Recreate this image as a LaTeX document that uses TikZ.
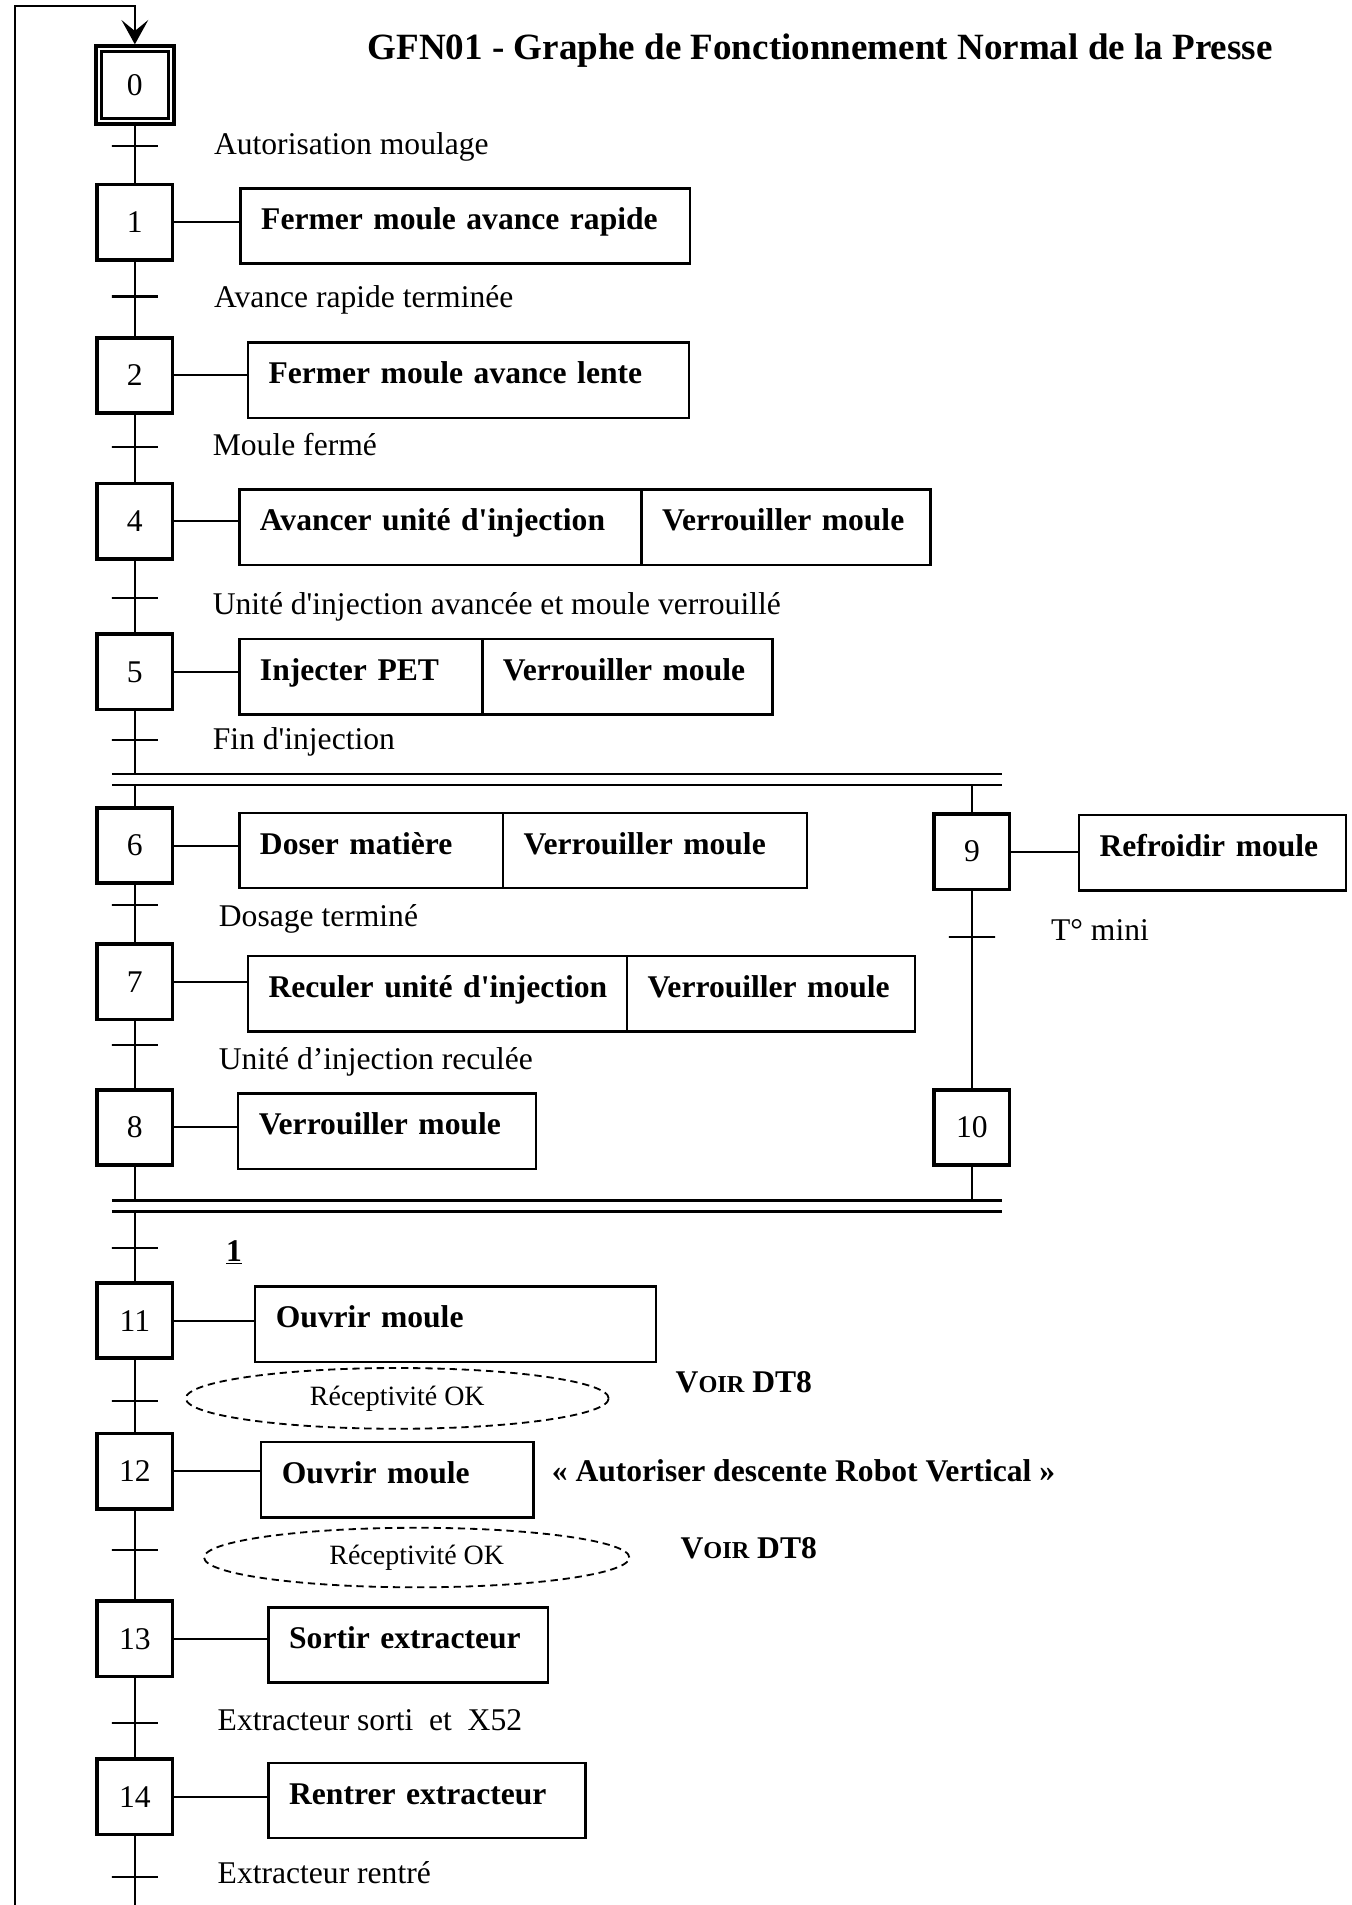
\documentclass[tikz,border=0pt]{standalone}
\usepackage{fontspec}
\setmainfont{Liberation Serif}
\usetikzlibrary{arrows.meta,shapes.geometric}
\newcommand\myfs{\fontsize{26}{31}\selectfont}
\newcommand\myrc{\fontsize{23}{28}\selectfont}
\newcommand\mysc{\fontsize{20}{24}\selectfont}
\newcommand\mytitle{\fontsize{30.5}{36}\selectfont}
\newcommand\aq{\textquotesingle}
\begin{document}
\begin{tikzpicture}[x=1pt,y=-1pt,
  stepbox/.style={draw, line width=3, minimum width=62, minimum height=62, inner sep=0, font=\myfs},
  actbox/.style={draw, line width=2, minimum height=62, anchor=north west, inner xsep=17, inner ysep=0, align=left, font=\myfs\bfseries, text height=20, text depth=14},
  trans/.style={draw, line width=2, minimum width=38, minimum height=0, inner sep=0},
  lbl/.style={anchor=west, font=\myfs, inner sep=0, text height=18, text depth=6},
  blbl/.style={anchor=west, font=\myfs\bfseries, inner sep=0, text height=18, text depth=6},
  link/.style={line width=1.6},
  dbl/.style={line width=2},
  rcp/.style={draw, ellipse, dash pattern=on 6pt off 4pt, line width=1.5, inner sep=0, font=\myrc}
]
\useasboundingbox (0,0) rectangle (1112,1568);

% title
\node[font=\mytitle\bfseries] (title) at (675,42) {GFN01 - Graphe de Fonctionnement Normal de la Presse};

% step 0 (initial)
\node[stepbox, minimum width=64, minimum height=64] (s0) at (111,70) {0};
\draw[line width=2.2] ([shift={(6,6)}]s0.north west) rectangle ([shift={(-6,-6)}]s0.south east);

% steps
\node[stepbox] (s1) at (111,183) {1};
\node[stepbox] (s2) at (111,309) {2};
\node[stepbox] (s4) at (111,429) {4};
\node[stepbox] (s5) at (111,553) {5};
\node[stepbox] (s6) at (111,696) {6};
\node[stepbox] (s7) at (111,808) {7};
\node[stepbox] (s8) at (111,928) {8};
\node[stepbox] (s9) at (800,701) {9};
\node[stepbox] (s10) at (800,928) {10};
\node[stepbox] (s11) at (111,1087) {11};
\node[stepbox] (s12) at (111,1211) {12};
\node[stepbox] (s13) at (111,1349) {13};
\node[stepbox] (s14) at (111,1479) {14};

% actions
\node[actbox, text width=336] (a1) at (197,154) {Fermer moule avance rapide};
\node[actbox, text width=329] (a2) at (203,281) {Fermer moule avance lente};
\node[actbox, text width=297] (a4a) at (196,402) {\mbox{Avancer unité d\aq injection}};
\node[actbox, text width=204] (a4b) at (527,402) {Verrouiller moule};
\node[actbox, text width=166] (a5a) at (196,525) {Injecter PET};
\node[actbox, text width=205] (a5b) at (396,525) {Verrouiller moule};
\node[actbox, text width=183] (a6a) at (196,668) {Doser matière};
\node[actbox, text width=216] (a6b) at (413,668) {Verrouiller moule};
\node[actbox, text width=186] (a9) at (887,670) {Refroidir moule};
\node[actbox, text width=278] (a7a) at (203,786) {\mbox{Reculer unité d\aq injection}};
\node[actbox, text width=203] (a7b) at (515,786) {Verrouiller moule};
\node[actbox, text width=211] (a8) at (195,899) {Verrouiller moule};
\node[actbox, text width=296] (a11) at (209,1058) {Ouvrir moule};
\node[actbox, text width=190] (a12) at (214,1186) {Ouvrir moule};
\node[actbox, text width=196] (a13) at (220,1322) {Sortir extracteur};
\node[actbox, text width=227] (a14) at (220,1450) {Rentrer extracteur};

% step-action links
\foreach \s/\a in {s1/a1,s2/a2,s4/a4a,s5/a5a,s6/a6a,s9/a9,s7/a7a,s8/a8,s11/a11,s12/a12,s13/a13,s14/a14}
  \draw[link] (\s.east) -- (\s.east -| \a.west);

% transitions
\node[trans] (t0) at (111,120) {};
\node[trans] (t1) at (111,244) {};
\node[trans] (t2) at (111,368) {};
\node[trans] (t4) at (111,492) {};
\node[trans] (t5) at (111,609) {};
\node[trans] (t6) at (111,745) {};
\node[trans] (t9) at (800,771) {};
\node[trans] (t7) at (111,860) {};
\node[trans] (t8) at (111,1027) {};
\node[trans] (t11) at (111,1153) {};
\node[trans] (t12) at (111,1276) {};
\node[trans] (t13) at (111,1418) {};
\node[trans] (t14) at (111,1545) {};

% receptivities
\node[lbl] (r0) at (176,121) {Autorisation moulage};
\node[lbl] (r1) at (176,247) {Avance rapide terminée};
\node[lbl] (r2) at (175,369) {Moule fermé};
\node[lbl] (r4) at (175,500) {Unité d\aq injection avancée et moule verrouillé};
\node[lbl] (r5) at (175,611) {Fin d\aq injection};
\node[lbl] (r6) at (180,757) {Dosage terminé};
\node[lbl] (r9) at (865,768) {T° mini};
\node[lbl] (r7) at (180,874) {Unité d’injection reculée};
\node[blbl] (r8) at (186,1032) {\underline{1}};
\node[rcp, minimum width=348, minimum height=50] (r11) at (327,1151) {Réceptivité OK};
\node[blbl] (v11) at (556,1140) {V{\mysc OIR} DT8};
\node[blbl] (n12) at (454,1213) {«~Autoriser descente Robot Vertical~»};
\node[rcp, minimum width=350, minimum height=49] (r12) at (343,1282) {Réceptivité OK};
\node[blbl] (v12) at (560,1277) {V{\mysc OIR} DT8};
\node[lbl] (r13) at (179,1418) {Extracteur sorti\ \ et\ \ X52};
\node[lbl] (r14) at (179,1544) {Extracteur rentré};

% divergence / convergence double bars
\coordinate (dA1) at (92,637);  \coordinate (dA2) at (825,637);
\coordinate (dB1) at (92,646);  \coordinate (dB2) at (825,646);
\coordinate (cA1) at (92,988);  \coordinate (cA2) at (825,988);
\coordinate (cB1) at (92,997);  \coordinate (cB2) at (825,997);
\draw[dbl] (dA1) -- (dA2);
\draw[dbl] (dB1) -- (dB2);
\draw[dbl] (cA1) -- (cA2);
\draw[dbl] (cB1) -- (cB2);

% vertical links
\draw[link] (s0.south) -- (s1.north);
\draw[link] (s1.south) -- (s2.north);
\draw[link] (s2.south) -- (s4.north);
\draw[link] (s4.south) -- (s5.north);
\draw[link] (s5.south) -- (s5.south |- dA1);
\draw[link] (s6.north |- dB1) -- (s6.north);
\draw[link] (s9.north |- dB1) -- (s9.north);
\draw[link] (s6.south) -- (s7.north);
\draw[link] (s7.south) -- (s8.north);
\draw[link] (s9.south) -- (s10.north);
\draw[link] (s8.south) -- (s8.south |- cA1);
\draw[link] (s10.south) -- (s10.south |- cA1);
\draw[link] (s11.north |- cB1) -- (s11.north);
\draw[link] (s11.south) -- (s12.north);
\draw[link] (s12.south) -- (s13.north);
\draw[link] (s13.south) -- (s14.north);
\coordinate (bot) at (111,1568);
\coordinate (botL) at (12,1568);
\coordinate (topL) at (12,5);
\coordinate (topR) at (111,5);
\draw[link] (s14.south) -- (bot);
\draw[link, -{Stealth[length=20pt, width=22pt, inset=9pt]}] (botL) -- (topL) -- (topR) -- (s0.north);
\end{tikzpicture}
\end{document}
